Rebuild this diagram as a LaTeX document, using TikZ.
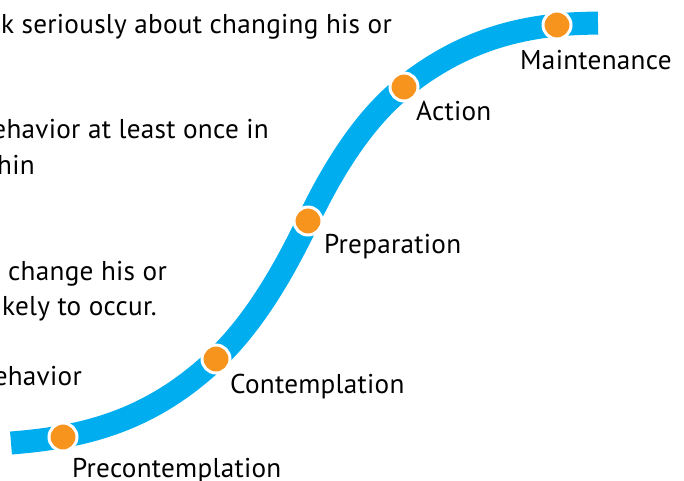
\documentclass[tikz,border=0pt]{standalone}
\usepackage{fontspec}
\setmainfont[LetterSpace=1.0]{PT Sans}
\begin{document}
\begin{tikzpicture}[x=1pt,y=-1pt,
  band/.style={line width=23pt,line cap=butt,draw={rgb,255:red,0;green,174;blue,239}},
  stage/.style={circle,fill={rgb,255:red,247;green,148;blue,29},draw=white,line width=3pt,
    minimum size=28pt,inner sep=0pt},
  lbl/.style={inner sep=0pt,anchor=base west,font=\fontsize{27.2}{30}\selectfont},
  desc/.style={inner sep=0pt,anchor=base east,font=\fontsize{27.2}{30}\selectfont}]
\useasboundingbox (0,0) rectangle (684,480);
% the S-shaped path of the stages, tangent-continuous cubic pieces
\coordinate (s0) at (11,443);
\coordinate (s1) at (216,359);
\coordinate (s2) at (308,221);
\coordinate (s3) at (404,87);
\coordinate (s4) at (557,25);
\coordinate (s5) at (598,23);
\draw[band] (s0) .. controls (79,437.6) and (148,423.6) .. (s1)
                 .. controls (247,329.5) and (277,286) .. (s2)
                 .. controls (340,154) and (372,112.6) .. (s3)
                 .. controls (455,46.2) and (506,30.1) .. (s4)
                 .. controls (571,23.6) and (584,23.3) .. (s5);
% stage markers
\node[stage] (pre) at (63,437) {};
\node[stage] (con) at (s1) {};
\node[stage] (prep) at (s2) {};
\node[stage] (act) at (s3) {};
\node[stage] (main) at (s4) {};
% stage names
\node[lbl] (tpre) at (72,477) {Precontemplation};
\node[lbl] (tcon) at (230,393) {Contemplation};
\node[lbl] (tprep) at (324,253) {Preparation};
\node[lbl] (tact) at (416,120) {Action};
\node[lbl] (tmain) at (520,69) {Maintenance};
% descriptions running in from the left
\node[desc] (d1) at (392,33) {k seriously about changing his or};
\node[desc] (d2) at (269,138) {ehavior at least once in};
\node[desc] (d3) at (35,174) {hin};
\node[desc] (d4) at (167,280) {change his or};
\node[desc] (d5) at (157,315) {kely to occur.};
\node[desc] (d6) at (82,385) {ehavior};
\end{tikzpicture}
\end{document}
